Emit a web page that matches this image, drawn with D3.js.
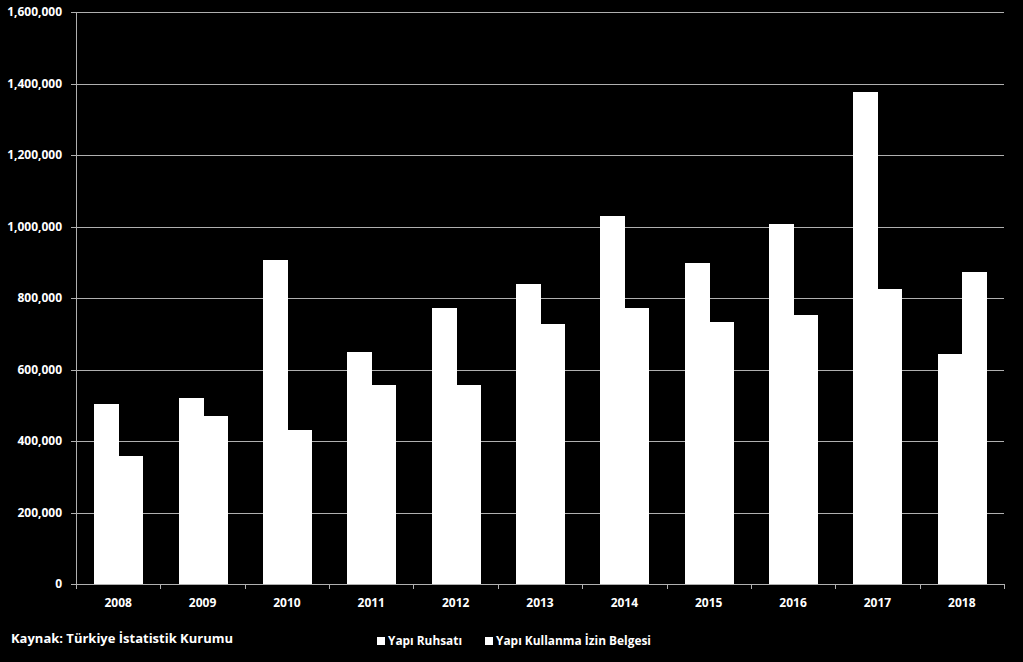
<!DOCTYPE html>
<html>
<head>
<meta charset="utf-8">
<script src="https://cdn.jsdelivr.net/npm/d3@7"></script>
<style>
  html, body { margin: 0; padding: 0; background: #000; }
  svg { display: block; }
  text { font-family: "Open Sans", "Noto Sans", sans-serif; font-weight: bold; fill: #fff; }
</style>
</head>
<body>
<script>
var w = 1023, h = 662;

// data
var years = ["2008", "2009", "2010", "2011", "2012", "2013", "2014", "2015", "2016", "2017", "2018"];
var series = ["Yapı Ruhsatı", "Yapı Kullanma İzin Belgesi"];
var ruhsat = [503000, 519000, 906000, 650000, 771000, 839000, 1029000, 899000, 1007000, 1375000, 642000];
var kullanma = [357000, 471000, 430000, 557000, 557000, 726000, 771000, 732000, 753000, 824000, 872000];
var yTicks = [0, 200000, 400000, 600000, 800000, 1000000, 1200000, 1400000, 1600000];
var source = "Kaynak: Türkiye İstatistik Kurumu";

// plot box (note: "top" is taken by window.top)
var pL = 76, pR = 1004, pT = 12, pB = 584;
var gridColor = "#b0b0b0";

var svg = d3.select("body").append("svg").attr("width", w).attr("height", h);
svg.append("rect").attr("width", w).attr("height", h).attr("fill", "#000");

var y = d3.scaleLinear().domain([0, 1600000]).range([pB, pT]);
var x0 = d3.scaleBand().domain(years).range([pL, pR]).paddingInner(0.43).paddingOuter(0.215);
var x1 = d3.scaleBand().domain(series).range([0, x0.bandwidth()]);

// gridlines + y labels
var gy = svg.append("g");
gy.selectAll("line").data(yTicks).enter().append("line")
  .attr("x1", pL - 5).attr("x2", pR)
  .attr("y1", function(d){ return Math.round(y(d)) + 0.5; })
  .attr("y2", function(d){ return Math.round(y(d)) + 0.5; })
  .attr("stroke", gridColor).attr("stroke-width", 1);
gy.selectAll("text").data(yTicks).enter().append("text")
  .attr("x", 62).attr("y", function(d){ return y(d); })
  .attr("dy", "0.35em").attr("text-anchor", "end")
  .attr("font-size", "12px")
  .text(d3.format(","));

// y axis line
svg.append("line").attr("x1", pL + 0.5).attr("x2", pL + 0.5)
  .attr("y1", pT).attr("y2", pB).attr("stroke", gridColor);

// bars
var rows = years.map(function(yr, i){ return {year: yr, vals: [ruhsat[i], kullanma[i]]}; });
var grp = svg.append("g").attr("shape-rendering", "crispEdges")
  .selectAll("g").data(rows).enter().append("g")
  .attr("transform", function(d){ return "translate(" + Math.round(x0(d.year)) + ",0)"; });
grp.selectAll("rect").data(function(d){
    return d.vals.map(function(v, j){ return {s: series[j], v: v}; });
  }).enter().append("rect")
  .attr("x", function(d){ return Math.round(x1(d.s)); })
  .attr("width", Math.round(x1.bandwidth()) + 0.5)
  .attr("y", function(d){ return y(d.v); })
  .attr("height", function(d){ return pB - y(d.v); })
  .attr("fill", "#fff");

// x axis with ticks between categories
var step = x0.step();
var xt = d3.range(years.length + 1).map(function(i){ return pL + i * step; });
svg.append("g").selectAll("line").data(xt).enter().append("line")
  .attr("x1", function(d){ return Math.round(d) + 0.5; })
  .attr("x2", function(d){ return Math.round(d) + 0.5; })
  .attr("y1", pB).attr("y2", pB + 5).attr("stroke", gridColor);
svg.append("line").attr("x1", pL).attr("x2", pR)
  .attr("y1", pB + 0.5).attr("y2", pB + 0.5).attr("stroke", gridColor);
svg.append("g").selectAll("text").data(years).enter().append("text")
  .attr("x", function(d){ return x0(d) + x0.bandwidth() / 2; })
  .attr("y", 607).attr("text-anchor", "middle").attr("font-size", "12px")
  .text(function(d){ return d; });

// source note
svg.append("text").attr("x", 11).attr("y", 643).attr("font-size", "13px")
  .attr("textLength", 222).attr("lengthAdjust", "spacingAndGlyphs")
  .text(source);

// legend
var legX = [377, 485], legW = [74, 155];
var leg = svg.append("g").selectAll("g").data(series).enter().append("g");
leg.append("rect")
  .attr("x", function(d, i){ return legX[i]; }).attr("y", 637)
  .attr("width", 8).attr("height", 8).attr("fill", "#fff");
leg.append("text")
  .attr("x", function(d, i){ return legX[i] + 11; }).attr("y", 645)
  .attr("font-size", "12px")
  .attr("textLength", function(d, i){ return legW[i]; })
  .attr("lengthAdjust", "spacingAndGlyphs")
  .text(function(d){ return d; });
</script>
</body>
</html>
